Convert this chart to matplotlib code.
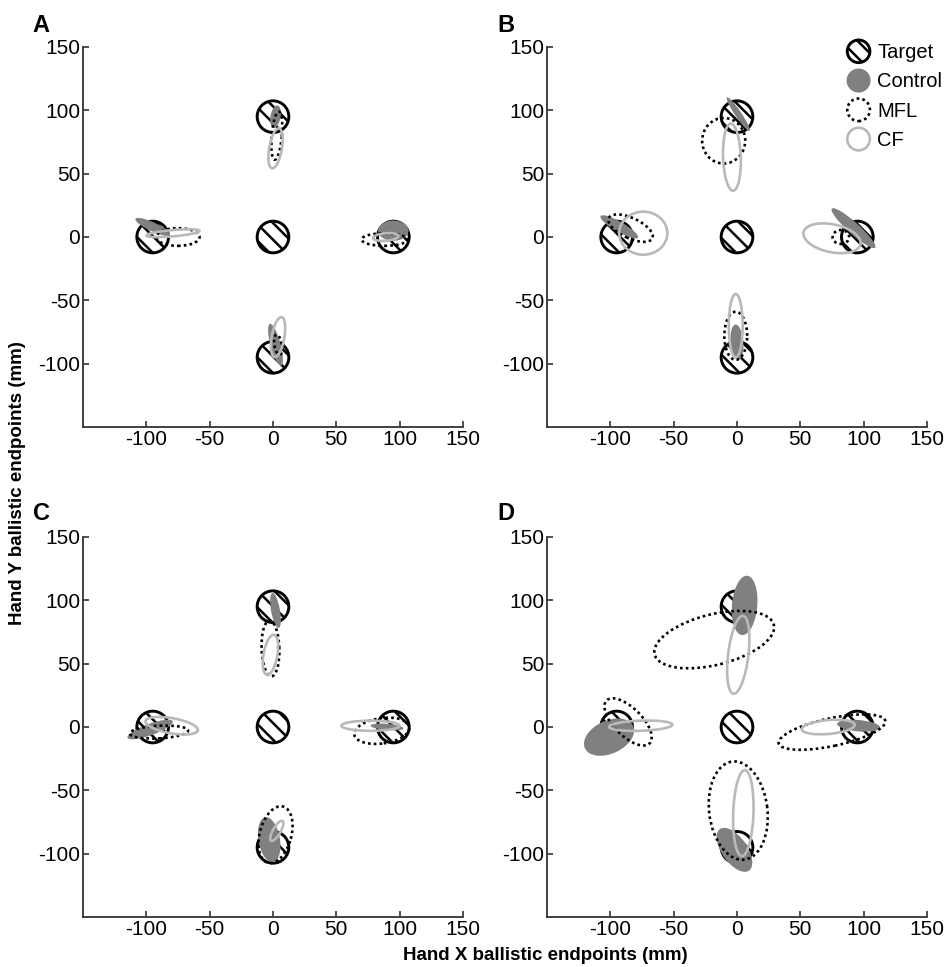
import matplotlib
matplotlib.use("Agg")
import matplotlib.pyplot as plt
import matplotlib.patches as mpatches
from matplotlib.legend_handler import HandlerPatch

plt.rcParams['font.family'] = ['Liberation Sans', 'DejaVu Sans']
plt.rcParams['hatch.linewidth'] = 1.8
plt.rcParams['axes.unicode_minus'] = False

# ---------------- data ----------------
panel_labels = ['A', 'B', 'C', 'D']
target_x = [0, -95, 95, 0, 0]
target_y = [95, 0, 0, -95, 0]
target_radius = 12.5
ticks = [-100, -50, 0, 50, 100, 150]
yticks = [-100, -50, 0, 50, 100, 150]
legend_labels = ['Target', 'Control', 'MFL', 'CF']

# ellipse parameters: (center x, center y, major, minor, angle deg) for top, left, right, bottom targets
control_A = [(2, 95, 18, 8, 80), (-95, 8, 30, 7, -25), (95, 5, 24, 16, 0), (2, -85, 34, 8, 105)]
mfl_A = [(3, 80, 38, 8, 85), (-75, 0, 34, 14, 0), (88, -2, 36, 10, 0), (4, -85, 16, 6, 100)]
cf_A = [(2, 70, 32, 10, 80), (-79, 3, 42, 5, 5), (89, 0, 20, 6, 5), (4, -79, 32, 10, 80)]

control_B = [(1, 97, 32, 5, -56), (-93, 8, 34, 8, -30), (92, 7, 46, 9, -42), (0, -83, 28, 10, 95)]
mfl_B = [(-10.5, 76, 34, 36, 0), (-84, 7, 38, 16, -25), (82, 0, 13, 11, 0), (-1, -78, 38, 18, 90)]
cf_B = [(-4, 63, 53, 14, 92), (-74, 3, 38, 34, 0), (75, -1, 46, 22, -12), (-1, -70, 50, 11, 90)]

control_C = [(2, 92, 28, 7, 100), (-97, -2, 38, 9, 20), (90, 0, 26, 5, -5), (-3, -89, 36, 17, 100)]
mfl_C = [(-2, 62, 44, 14, 92), (-90, -4, 46, 10, 3), (86, -3, 44, 20, 8), (2, -85, 46, 25, 75)]
cf_C = [(-2, 57, 32, 11, 80), (-80, 1, 42, 12, -10), (77, 1, 46, 8, 0), (3, -82, 18, 6, 60)]

control_D = [(6, 96, 47, 20, 85), (-101, -8, 42, 26, 25), (96, 1, 34, 9, -5), (-2, -97, 40, 20, -55)]
mfl_D = [(-18, 69, 97, 40, 14), (-86, 4, 48, 22, -45), (75, -4, 86, 22, 12), (1, -66, 78, 46, 97)]
cf_D = [(1, 57, 62, 16, 83), (-76, 1, 50, 8, 2), (72, 0, 42, 11, 5), (5, -68, 68, 16, 88)]

controls = [control_A, control_B, control_C, control_D]
mfls = [mfl_A, mfl_B, mfl_C, mfl_D]
cfs = [cf_A, cf_B, cf_C, cf_D]

# ---------------- styles ----------------
CTRL_COLOR = '#808080'
CF_COLOR = '#b9b9b9'
LINE_W = 1.9
target_style = dict(facecolor='white', edgecolor='black', linewidth=2.1, hatch='\\\\')
control_style = dict(facecolor=CTRL_COLOR, edgecolor='none')
mfl_style = dict(facecolor='none', edgecolor='black', linewidth=LINE_W, linestyle=(0, (1, 1.2)))
cf_style = dict(facecolor='none', edgecolor=CF_COLOR, linewidth=LINE_W)

W, H = 947, 967
fig = plt.figure(figsize=(W / 100, H / 100), dpi=100)

positions = [(83, 47), (547, 47), (83, 537), (547, 537)]  # left, top in px
size = 380
letter_pos = [(32, 32), (497, 32), (33, 520), (497, 520)]

for i, (lx, ty) in enumerate(positions):
    ax = fig.add_axes([lx / W, 1 - (ty + size) / H, size / W, size / H])
    ax.set_xlim(-150, 150)
    ax.set_ylim(-150, 150)
    for s in ['top', 'right']:
        ax.spines[s].set_visible(False)
    for s in ['left', 'bottom']:
        ax.spines[s].set_linewidth(1.3)
        ax.spines[s].set_color('#333333')
    ax.set_xticks(ticks)
    ax.set_yticks(yticks)
    ax.tick_params(direction='in', length=4, width=1.2, color='#333333',
                   labelsize=15, pad=2)
    for tx, tyv in zip(target_x, target_y):
        ax.add_patch(mpatches.Circle((tx, tyv), target_radius, zorder=1, **target_style))
    for (cx, cy, a, b, ang) in controls[i]:
        ax.add_patch(mpatches.Ellipse((cx, cy), a, b, angle=ang, zorder=2, **control_style))
    for (cx, cy, a, b, ang) in mfls[i]:
        ax.add_patch(mpatches.Ellipse((cx, cy), a, b, angle=ang, zorder=3, **mfl_style))
    for (cx, cy, a, b, ang) in cfs[i]:
        ax.add_patch(mpatches.Ellipse((cx, cy), a, b, angle=ang, zorder=4, **cf_style))
    fig.text(letter_pos[i][0] / W, 1 - letter_pos[i][1] / H, panel_labels[i],
             fontsize=17, fontweight='bold', ha='left', va='baseline')
    if i == 1:
        axB = ax


class HandlerCircle(HandlerPatch):
    def create_artists(self, legend, orig_handle, xdescent, ydescent, width, height,
                       fontsize, trans):
        center = (0.5 * width - xdescent, 0.5 * height - ydescent)
        r = min(width, height) / 2
        p = mpatches.Circle(center, r)
        self.update_prop(p, orig_handle, legend)
        p.set_transform(trans)
        return [p]


handles = [mpatches.Patch(**target_style),
           mpatches.Patch(**control_style),
           mpatches.Patch(**mfl_style),
           mpatches.Patch(**cf_style)]
handles[1].set_edgecolor(CTRL_COLOR)
axB.legend(handles, legend_labels, handler_map={mpatches.Patch: HandlerCircle()},
           loc='upper left', bbox_to_anchor=(845 / W, 1 - 40 / H),
           bbox_transform=fig.transFigure, frameon=False, fontsize=14.5,
           handlelength=1.35, handleheight=1.35, handletextpad=0.25,
           labelspacing=0.33, borderpad=0, borderaxespad=0)

fig.text(18 / W, 0.5, 'Hand Y ballistic endpoints (mm)', rotation=90,
         fontsize=13.5, fontweight='bold', ha='center', va='center')
fig.text(545 / W, 1 - 955 / H, 'Hand X ballistic endpoints (mm)',
         fontsize=13.5, fontweight='bold', ha='center', va='center')

fig.savefig('out.png', dpi=100)
